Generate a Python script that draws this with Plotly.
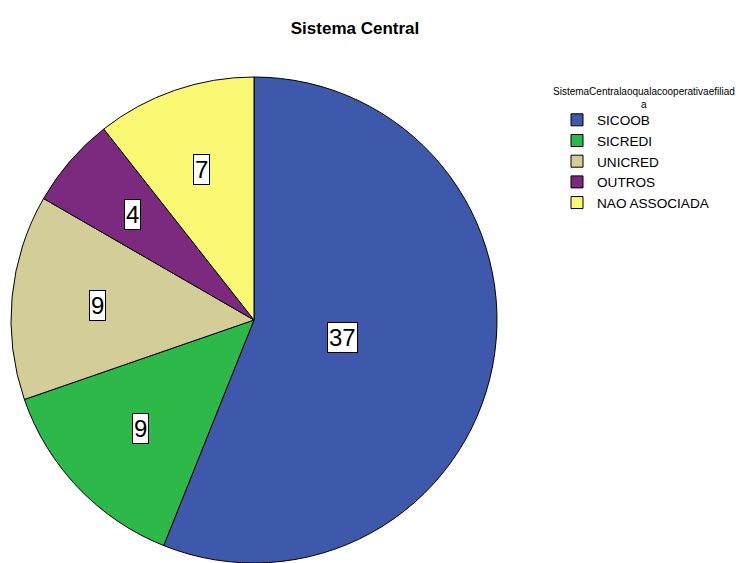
import math
import plotly.graph_objects as go

categories = ["SICOOB", "SICREDI", "UNICRED", "OUTROS", "NAO ASSOCIADA"]
values = [37, 9, 9, 4, 7]
colors = ["#3e58ac", "#2db84a", "#d3ce97", "#7b2a80", "#fbf873"]
legend_title = "SistemaCentralaoqualacooperativaefiliad<br>a"

W, H = 742, 563
dom_x = [10 / W, 498 / W]
dom_y = [0.0, 1 - 77 / H]

fig = go.Figure(go.Pie(
    labels=categories, values=values, sort=False, direction="clockwise", rotation=0,
    marker=dict(colors=colors, line=dict(color="black", width=1)),
    textinfo="none", hoverinfo="label+value",
    domain=dict(x=dom_x, y=dom_y),
))

# label annotations placed at each slice's centroid
cx_px = (dom_x[0] + dom_x[1]) / 2 * W
cy_px = (1 - (dom_y[0] + dom_y[1]) / 2) * H
R = min((dom_x[1] - dom_x[0]) * W, (dom_y[1] - dom_y[0]) * H) / 2
total = sum(values)
start = 0.0
for v in values:
    span = v / total * 2 * math.pi
    mid = start + span / 2
    a = span / 2
    d = 2 * R * math.sin(a) / (3 * a)
    px = cx_px + d * math.sin(mid)
    py = cy_px - d * math.cos(mid)
    fig.add_annotation(x=px / W, y=1 - py / H, xref="paper", yref="paper",
                       xanchor="center", yanchor="middle",
                       text=str(v), showarrow=False,
                       font=dict(family="Liberation Sans, Arial", size=24, color="black"),
                       bgcolor="white", bordercolor="black", borderwidth=1, borderpad=1)
    start += span

# legend title as centered annotation
fig.add_annotation(x=644 / W, y=1 - 84 / H, xref="paper", yref="paper",
                   xanchor="center", yanchor="top", align="center",
                   text=legend_title, showarrow=False,
                   font=dict(family="Liberation Sans, Arial", size=10, color="black"))

fig.update_layout(
    width=W, height=H,
    margin=dict(l=0, r=0, t=0, b=0),
    paper_bgcolor="white", plot_bgcolor="white",
    title=dict(text="<b>Sistema Central</b>", x=355 / W, xanchor="center",
               y=1 - 28 / H, yanchor="middle",
               font=dict(family="Liberation Sans, Arial", size=17, color="black")),
    legend=dict(
        x=557 / W, y=1 - 104.5 / H, xanchor="left", yanchor="top",
        font=dict(family="Liberation Sans, Arial", size=13.6, color="black"),
        bgcolor="rgba(0,0,0,0)",
    ),
)

fig.write_html("out.html")
